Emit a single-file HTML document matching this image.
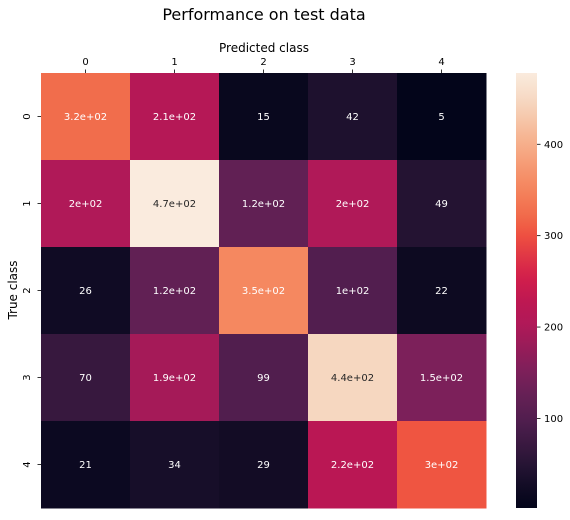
<!DOCTYPE html>
<html><head><meta charset="utf-8"><style>
body{margin:0;background:#fff;font-family:"Liberation Sans","DejaVu Sans",sans-serif;}
svg text{font-family:"DejaVu Sans","Liberation Sans",sans-serif;}
</style></head><body>
<svg id="chart" width="570" height="515" xmlns="http://www.w3.org/2000/svg">
<text x="264" y="20" font-size="16" text-anchor="middle" fill="#000">Performance on test data</text>
<text x="264" y="52" font-size="12" text-anchor="middle" fill="#000">Predicted class</text>
<text transform="translate(17,290) rotate(-90)" font-size="12" text-anchor="middle" fill="#000">True class</text>
<g id="cells"></g><g id="xticks"></g><g id="yticks"></g><g id="cbar"></g>
</svg>
<script>
const xCategories=["0","1","2","3","4"];
const yCategories=["0","1","2","3","4"];
const row0=[320,210,15,42,5];
const row1=[200,470,120,200,49];
const row2=[26,120,350,100,22];
const row3=[70,190,99,440,150];
const row4=[21,34,29,220,300];
const labels0=["3.2e+02","2.1e+02","15","42","5"];
const labels1=["2e+02","4.7e+02","1.2e+02","2e+02","49"];
const labels2=["26","1.2e+02","3.5e+02","1e+02","22"];
const labels3=["70","1.9e+02","99","4.4e+02","1.5e+02"];
const labels4=["21","34","29","2.2e+02","3e+02"];
const colorbarTicks=[100,200,300,400];

const rows=[row0,row1,row2,row3,row4];
const labs=[labels0,labels1,labels2,labels3,labels4];
const NS="http://www.w3.org/2000/svg";
const X0=41,X1=486,Y0=73,Y1=508;
const all=rows.flat();const vmin=Math.min(...all),vmax=Math.max(...all);
const cw=(X1-X0)/xCategories.length,ch=(Y1-Y0)/yCategories.length;
const stops=[[0,3,5,26],[0.04,14,10,34],[0.1,38,20,52],[0.2,80,30,78],[0.25,98,32,84],[0.31,123,32,90],[0.42,176,25,88],[0.46,185,23,84],[0.53,210,30,75],[0.63,239,82,64],[0.67,241,106,74],[0.74,245,135,95],[0.85,246,180,145],[0.94,246,217,195],[1,250,235,222]];
function cmap(t){t=Math.max(0,Math.min(1,t));for(let i=1;i<stops.length;i++){if(t<=stops[i][0]){const a=stops[i-1],b=stops[i],f=(t-a[0])/(b[0]-a[0]);return [1,2,3].map(k=>Math.round(a[k]+(b[k]-a[k])*f));}}return stops[stops.length-1].slice(1);}
function norm(v){return (v-vmin)/(vmax-vmin);}
const cbLo=vmin-3,cbHi=vmax+8;
function cy(v){return Y1-(v-cbLo)/(cbHi-cbLo)*(Y1-Y0);}
function relLum(c){return c.map(x=>{x/=255;return x<=0.03928?x/12.92:Math.pow((x+0.055)/1.055,2.4);}).reduce((s,x,k)=>s+x*[0.2126,0.7152,0.0722][k],0);}
function mk(tag,attrs,parent){const e=document.createElementNS(NS,tag);for(const k in attrs)e.setAttribute(k,attrs[k]);parent.appendChild(e);return e;}
const gc=document.getElementById('cells');
rows.forEach((r,i)=>r.forEach((v,j)=>{
 const c=cmap(norm(v));
 const rect=mk('rect',{x:X0+j*cw,y:Y0+i*ch,width:cw+0.5,height:ch+0.5,fill:`rgb(${c})`},gc);
 
 
 const t=mk('text',{x:X0+(j+0.5)*cw,y:Y0+(i+0.5)*ch+3.5,'font-size':10,'text-anchor':'middle',fill:relLum(c)>0.5?'#262626':'#fff'},gc);
 t.textContent=labs[i][j];
 
 
}));
const gx=document.getElementById('xticks');
xCategories.forEach((c,j)=>{const x=X0+(j+0.5)*cw;
 mk('line',{x1:x,x2:x,y1:Y0-3.5,y2:Y0,stroke:'#000','stroke-width':0.8},gx);
 const t=mk('text',{x:x,y:Y0-8,'font-size':10,'text-anchor':'middle',fill:'#000'},gx);t.textContent=c;
 
 });
const gy=document.getElementById('yticks');
yCategories.forEach((c,i)=>{const y=Y0+(i+0.5)*ch;
 mk('line',{x1:X0-3.5,x2:X0,y1:y,y2:y,stroke:'#000','stroke-width':0.8},gy);
 const t=mk('text',{transform:`translate(30,${y}) rotate(-90)`,'font-size':10,'text-anchor':'middle',fill:'#000'},gy);t.textContent=c;
 
 });
const gb=document.getElementById('cbar');
const defs=mk('defs',{},gb);const lg=mk('linearGradient',{id:'cg',x1:0,y1:1,x2:0,y2:0},defs);
for(let k=0;k<=40;k++){const c=cmap(k/40);mk('stop',{offset:k/40,'stop-color':`rgb(${c})`},lg);}
const cb=mk('rect',{x:516,y:Y0,width:21,height:Y1-Y0,fill:'url(#cg)'},gb);


colorbarTicks.forEach(v=>{const y=cy(v);
 mk('line',{x1:537,x2:540.5,y1:y,y2:y,stroke:'#000','stroke-width':0.8},gb);
 const t=mk('text',{x:544,y:y+3.5,'font-size':10,fill:'#000'},gb);t.textContent=v;
 
 });
</script>
</body></html>
